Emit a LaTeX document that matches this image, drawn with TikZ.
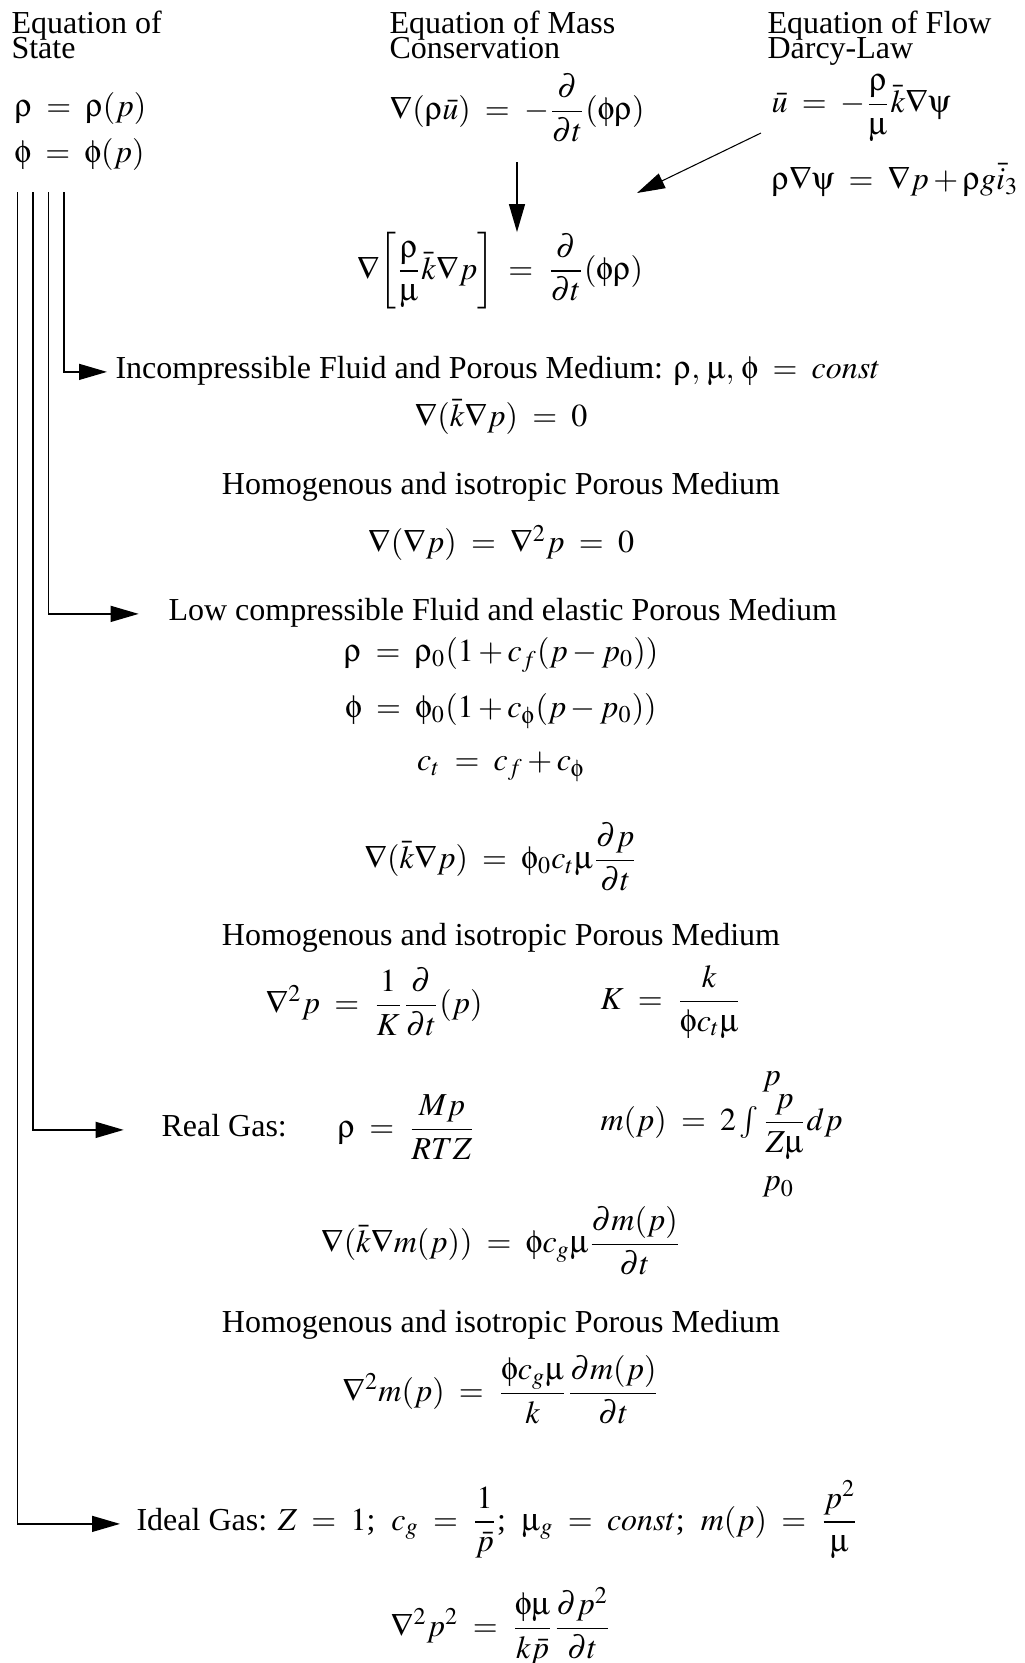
\documentclass[tikz,border=0pt]{standalone}
\usepackage{amsmath}
\usepackage{mathptmx}
\usepackage[Symbol]{upgreek}
\usepackage[no-math]{fontspec}
\setmainfont{Liberation Serif}
\usetikzlibrary{arrows.meta}
\newcommand{\dens}{\uprho}
\newcommand{\por}{\upphi}
\newcommand{\visc}{\upmu}
\newcommand{\pot}{\uppsi}
\newcommand{\eqsign}{\;=\;}
% limits of the integral, set far above and below
\newcommand{\intlim}[2]{\hbox to0pt{\smash{\raise16.6pt\hbox{$#2$}}\hss}\hbox to0pt{\smash{\lower22.8pt\hbox{$#1$}}\hss}}

\begin{document}
\begin{tikzpicture}[x=0.375pt,y=-0.375pt,font=\fontsize{12}{14}\selectfont,
   lbl/.style={inner sep=0pt,anchor=base west},
   eqn/.style={inner sep=0pt},
   head/.style={inner sep=0pt,anchor=north west,align=left},
   arr/.style={-{Triangle[length=10.5pt,width=6pt]},line width=0.5pt}]
\useasboundingbox (0,0) rectangle (1025,1663);
% three columns of basic laws
\node[head] (hstate) at (11,10) {Equation of\\[-4.4pt]State};
\node[head] (hmass) at (389,10) {Equation of Mass\\[-4.4pt]Conservation};
\node[head] (hflow) at (767,10) {Equation of Flow\\[-4.4pt]Darcy-Law};
\node[eqn,anchor=west] (rhop) at (14,108) {$\dens \eqsign \dens(p)$};
\node[eqn,anchor=west] (phip) at (14,154) {$\por \eqsign \por(p)$};
\node[eqn,anchor=west] (mass) at (389,108) {$\nabla(\dens\bar{u}) \eqsign -\dfrac{\partial}{\partial t}(\por\dens)$};
\node[eqn,anchor=west] (darcy) at (771,108) {$\bar{u} \eqsign -\dfrac{\dens}{\visc}\bar{k}\nabla\pot$};
\node[eqn,anchor=west] (grav) at (771,180) {$\dens\nabla\pot \eqsign \nabla p + \dens g\bar{i}_3$};
% combined flow equation
\node[eqn] (comb) at (500,271) {$\nabla\!\left[\dfrac{\dens}{\visc}\bar{k}\nabla p\right] \eqsign \dfrac{\partial}{\partial t}(\por\dens)$};
\coordinate (mdown) at (517,162);
\draw[arr] (mdown) -- (mdown |- comb.north);
\coordinate (dtail) at (761,133);
\coordinate (dtip) at (637,193);
\draw[arr,line width=0.4pt] (dtail) -- (dtip);
% incompressible
\node[lbl] (incomp) at (115,378) {Incompressible Fluid and Porous Medium: $\dens,\,\visc,\,\por \eqsign const$};
\node[eqn] (incompeq) at (501,417) {$\nabla(\bar{k}\nabla p) \eqsign 0$};
\node[lbl,anchor=base] (homa) at (501,494) {Homogenous and isotropic Porous Medium};
\node[eqn] (homaeq) at (501,543) {$\nabla(\nabla p) \eqsign \nabla^2 p \eqsign 0$};
% low compressible
\node[lbl] (lowc) at (168,620) {Low compressible Fluid and elastic Porous Medium};
\node[eqn] (rholin) at (501,655) {$\dens \eqsign \dens_0(1+c_f(p-p_0))$};
\node[eqn] (philin) at (501,711) {$\por \eqsign \por_0(1+c_\por(p-p_0))$};
\node[eqn] (ctot) at (501,767) {$c_t \eqsign c_f + c_\por$};
\node[eqn] (diffeq) at (501,857) {$\nabla(\bar{k}\nabla p) \eqsign \por_0 c_t\visc\dfrac{\partial p}{\partial t}$};
\node[lbl,anchor=base] (homb) at (501,945) {Homogenous and isotropic Porous Medium};
\node[eqn,anchor=west] (homdiff) at (265,1002) {$\nabla^2 p \eqsign \dfrac{1}{K}\dfrac{\partial}{\partial t}(p)$};
\node[eqn,anchor=west] (kdef) at (600,1002) {$K \eqsign \dfrac{k}{\por c_t\visc}$};
% real gas
\node[lbl] (realgas) at (161,1136) {Real Gas:};
\node[eqn,anchor=west] (rhogas) at (337,1127) {$\dens \eqsign \dfrac{Mp}{RTZ}$};
\node[eqn,anchor=west] (pseudo) at (600,1127) {$m(p) \eqsign 2\int\intlim{p_0}{p}\dfrac{p}{Z\visc}dp$};
\node[eqn] (gaseq) at (501,1241) {$\nabla(\bar{k}\nabla m(p)) \eqsign \por c_g\visc\dfrac{\partial m(p)}{\partial t}$};
\node[lbl,anchor=base] (homc) at (501,1332) {Homogenous and isotropic Porous Medium};
\node[eqn] (gashom) at (501,1390) {$\nabla^2 m(p) \eqsign \dfrac{\por c_g\visc}{k}\dfrac{\partial m(p)}{\partial t}$};
% ideal gas
\node[lbl] (ideal) at (136,1530) {Ideal Gas: $Z \eqsign 1$;\enspace $c_g \eqsign \dfrac{1}{\bar{p}}$;\enspace $\visc_g \eqsign const$;\enspace $m(p) \eqsign \dfrac{p^2}{\visc}$};
\node[eqn] (idealeq) at (501,1626) {$\nabla^2 p^2 \eqsign \dfrac{\por\visc}{k\bar{p}}\dfrac{\partial p^2}{\partial t}$};
% branches from the equation of state
\foreach \b/\x in {s1/17.7,s2/33,s3/48.7,s4/64} \coordinate (\b) at (\x,192);
\draw[arr,shorten >=3pt] (s4) |- (incomp.mid west);
\draw[arr,shorten >=11pt] (s3) |- (lowc.mid west);
\draw[arr,shorten >=14pt] (s2) |- (realgas.mid west);
\draw[arr,shorten >=6pt] (s1) |- (ideal.mid west);
\end{tikzpicture}
\end{document}
